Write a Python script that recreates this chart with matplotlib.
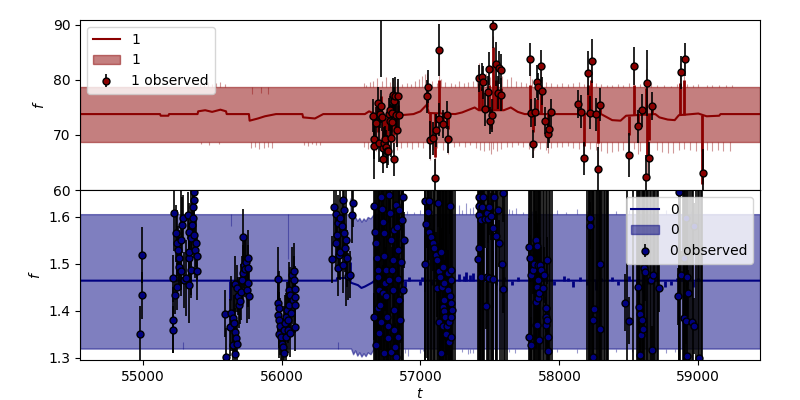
import matplotlib
matplotlib.use("Agg")
import matplotlib.pyplot as plt
import numpy as np

# ---------------- output "1" (top panel) ----------------
# slowly varying part of the predicted mean (t, f)
mean1 = [(54549, 73.8), (55125, 73.8), (55130, 73.5), (55185, 73.5), (55190, 73.8), (55395, 73.8),
         (55400, 74.3), (55450, 74.5), (55500, 74.2), (55560, 74.6), (55600, 74.3), (55605, 73.8),
         (55765, 73.8), (55770, 72.6), (55830, 73.0), (55880, 73.4), (55960, 73.8), (56150, 73.8),
         (56155, 73.2), (56240, 73.0), (56300, 73.8), (56600, 73.8), (56630, 74.3), (56655, 74.0),
         (56700, 73.5), (56760, 72.8), (56800, 73.8), (56860, 73.6), (56950, 73.8), (57000, 74.3),
         (57045, 75.5), (57060, 74.0), (57250, 73.8), (57300, 74.1), (57390, 75.0), (57420, 74.5),
         (57600, 74.5), (57650, 75.0), (57700, 74.2), (57750, 73.8), (58300, 73.8), (58380, 72.7),
         (58440, 72.6), (58480, 73.5), (58690, 73.8), (58720, 73.2), (58780, 72.8), (58830, 72.7),
         (58860, 73.6), (59000, 73.9), (59060, 73.4), (59150, 73.5), (59160, 73.8), (59444, 73.8)]
# short excursions of the mean (t, value reached)
mean1_spikes = [(56665, 70.0), (56680, 71.5), (56690, 75.5), (56697, 70.5), (56716, 77.0), (56728, 68.5),
                (56743, 69.5), (56757, 68.5), (56772, 75.0), (56786, 70.5), (56799, 76.5), (56806, 70.0),
                (56812, 75.5), (56818, 76.5), (56830, 71.5), (56836, 75.5), (57050, 77.5), (57069, 70.0),
                (57107, 66.0), (57136, 80.0), (57160, 72.5), (57196, 71.0), (57424, 79.5), (57445, 78.5),
                (57490, 79.0), (57505, 71.0), (57520, 86.0), (57544, 80.0), (57560, 78.0), (57580, 78.5),
                (57789, 79.0), (57808, 70.5), (57837, 76.5), (57868, 78.0), (57916, 71.5), (58132, 76.0),
                (58175, 68.0), (58204, 79.0), (58228, 80.0), (58276, 68.5), (58293, 75.0), (58504, 70.0),
                (58535, 79.0), (58564, 71.5), (58624, 78.5), (58628, 66.0), (58648, 69.0), (58665, 75.0),
                (58869, 79.5), (58900, 80.0), (59028, 61.0)]

# predicted band (t, lower, upper) and its ragged edges
band1 = [(54549, 68.8, 78.7), (59444, 68.8, 78.7)]
band1_hi = [(55410, 79.5), (55440, 79.2), (55470, 79.6), (55500, 79.3), (55530, 79.4), (55560, 79.6),
            (55590, 79.2), (55790, 77.4), (55850, 77.6), (55900, 77.5), (56590, 79.4), (56610, 79.1),
            (56640, 79.6), (56660, 79.9), (56690, 80.3), (56720, 79.8), (56750, 80.5), (56780, 79.6),
            (56800, 80.2), (56830, 79.7), (56870, 79.3), (56900, 79.5), (56930, 79.2), (56960, 79.8),
            (56990, 80.2), (57010, 80.8), (57030, 81.0), (57050, 81.3), (57080, 79.9), (57120, 79.4),
            (57136, 85.0), (57150, 80.1), (57180, 79.6), (57220, 79.5), (57250, 79.3), (57280, 79.8),
            (57310, 79.4), (57340, 79.7), (57380, 79.9), (57410, 80.7), (57424, 83.0), (57440, 80.9),
            (57470, 81.2), (57490, 82.0), (57500, 80.6), (57520, 88.0), (57530, 80.9), (57544, 83.0),
            (57560, 80.4), (57590, 80.8), (57620, 80.2), (57650, 80.5), (57690, 79.8), (57720, 79.6),
            (57760, 79.5), (57789, 83.0), (57800, 80.1), (57830, 79.7), (57860, 80.3), (57868, 82.0),
            (57900, 79.6), (57940, 79.4), (57980, 79.3), (58020, 79.5), (58060, 79.2), (58100, 79.4),
            (58140, 79.6), (58180, 79.3), (58204, 82.5), (58228, 83.0), (58260, 79.5), (58300, 79.2),
            (58340, 79.0), (58380, 79.1), (58420, 79.3), (58460, 79.0), (58500, 79.4), (58535, 82.5),
            (58580, 79.3), (58624, 82.0), (58660, 79.4), (58700, 79.1), (58750, 79.0), (58800, 78.9),
            (58850, 79.2), (58869, 83.0), (58900, 83.5), (58920, 79.3), (58960, 79.1), (59000, 79.2),
            (59060, 79.0), (59100, 79.1), (59150, 79.0), (59200, 79.1), (59240, 79.0)]
band1_lo = [(55420, 68.3), (55480, 68.2), (55550, 68.4), (55780, 67.6), (55810, 67.8), (55840, 67.5),
            (55870, 67.7), (55900, 67.8), (55930, 67.6), (56160, 68.2), (56190, 68.0), (56220, 68.3),
            (56250, 68.1), (56280, 68.2), (56590, 67.8), (56620, 67.5), (56650, 67.3), (56680, 67.0),
            (56710, 67.4), (56740, 66.8), (56770, 67.2), (56800, 67.0), (56830, 67.3), (56860, 67.6),
            (56900, 67.8), (56940, 67.5), (56980, 67.9), (57020, 67.7), (57060, 67.4), (57069, 65.5),
            (57090, 67.2), (57107, 61.5), (57120, 67.6), (57160, 67.3), (57196, 66.5), (57240, 67.9),
            (57280, 68.0), (57320, 67.8), (57360, 68.1), (57400, 67.6), (57430, 67.3), (57460, 67.0),
            (57490, 67.2), (57505, 66.5), (57520, 67.4), (57550, 67.1), (57580, 67.5), (57620, 67.8),
            (57660, 67.9), (57700, 68.1), (57740, 67.8), (57780, 67.5), (57808, 66.0), (57820, 67.2),
            (57860, 67.4), (57900, 67.3), (57916, 66.8), (57940, 67.6), (57980, 67.8), (58020, 67.9),
            (58060, 68.0), (58100, 67.7), (58140, 67.5), (58175, 64.5), (58220, 67.4), (58260, 67.2),
            (58276, 64.0), (58300, 67.0), (58340, 66.8), (58380, 66.9), (58420, 67.1), (58460, 67.3),
            (58504, 65.5), (58540, 67.4), (58564, 66.5), (58580, 67.1), (58628, 62.0), (58648, 65.0),
            (58700, 67.2), (58740, 66.9), (58780, 66.7), (58820, 66.8), (58860, 67.2), (58900, 67.4),
            (58940, 67.3), (58980, 67.1), (59020, 67.0), (59028, 56.0), (59060, 67.2), (59100, 67.0),
            (59140, 67.3), (59180, 67.1), (59230, 67.0)]

# observations (t, f, error)
obs1_a = [(56661, 73.5, 3.0), (56668, 69.2, 3.5), (56668, 68.0, 6.0), (56680, 72.1, 3.0),
          (56692, 75.8, 3.0), (56699, 68.6, 3.5), (56709, 73.8, 2.5), (56716, 75.2, 3.0),
          (56716, 100.0, 19.5), (56723, 73.3, 2.5), (56728, 67.7, 3.0), (56728, 65.6, 2.5),
          (56740, 68.5, 3.0), (56747, 69.2, 2.5), (56752, 67.9, 3.0), (56757, 67.0, 3.0),
          (56769, 67.0, 2.5), (56771, 73.8, 3.0), (56781, 74.5, 2.5), (56783, 72.6, 3.0),
          (56788, 69.5, 3.5), (56793, 74.0, 2.5), (56795, 72.4, 3.0), (56800, 77.3, 3.0),
          (56807, 65.6, 3.0), (56812, 76.2, 2.5), (56819, 77.1, 3.5), (56824, 73.6, 3.0),
          (56829, 70.9, 3.0), (56836, 77.1, 3.0), (56843, 73.6, 2.5)]
obs1_b = [(57045, 77.0, 3.0), (57052, 78.8, 3.0), (57069, 69.1, 3.5), (57088, 69.4, 3.0),
          (57107, 62.1, 3.5), (57112, 70.9, 3.0), (57131, 72.9, 3.0), (57136, 85.5, 4.7),
          (57160, 72.0, 2.5), (57189, 73.6, 2.5), (57196, 69.2, 2.5)]
obs1_c = [(57424, 80.3, 2.5), (57443, 80.5, 2.5), (57453, 79.6, 3.0), (57467, 74.7, 3.0),
          (57484, 77.8, 3.0), (57491, 82.0, 3.0), (57501, 72.6, 2.5), (57515, 73.6, 3.0),
          (57520, 89.8, 4.0), (57544, 82.9, 4.0), (57556, 77.7, 3.0), (57563, 82.2, 3.0),
          (57580, 81.8, 3.0), (57580, 77.3, 3.0)]
obs1_d = [(57789, 83.8, 3.0), (57796, 74.0, 2.5), (57808, 68.4, 2.5), (57825, 74.2, 2.5),
          (57837, 79.7, 3.0), (57844, 78.8, 2.5), (57868, 82.5, 3.0), (57875, 78.0, 2.5),
          (57899, 72.6, 2.5), (57916, 70.1, 2.5), (57923, 71.1, 2.5), (57940, 74.1, 2.5)]
obs1_e = [(58132, 75.6, 2.5), (58156, 74.2, 3.0), (58175, 65.8, 3.0), (58204, 81.2, 4.0),
          (58221, 74.0, 3.0), (58235, 83.5, 4.0), (58264, 73.8, 3.0), (58276, 63.8, 4.0),
          (58293, 75.5, 3.0), (58504, 66.4, 4.0), (58535, 82.5, 3.5), (58564, 71.6, 3.0),
          (58595, 74.5, 3.0), (58624, 62.4, 4.0), (58631, 79.4, 6.0), (58648, 65.8, 3.0),
          (58665, 75.3, 2.5), (58876, 81.4, 3.0), (58905, 83.8, 3.0), (59032, 63.0, 4.5)]

# ---------------- output "0" (bottom panel) ----------------
mean0 = [(54549, 1.4645), (56395, 1.4645), (56400, 1.470), (56485, 1.470), (56500, 1.460),
         (56520, 1.458), (56550, 1.455), (56575, 1.449), (56600, 1.452), (56625, 1.456),
         (56650, 1.460), (56700, 1.472), (56750, 1.455), (56800, 1.468), (56850, 1.458),
         (56880, 1.4645), (59444, 1.4645)]
mean0_spikes = [(55632, 1.424), (56045, 1.427), (56490, 1.505), (56890, 1.450), (56920, 1.472),
                (57000, 1.455), (57010, 1.473), (57080, 1.455), (57150, 1.475), (57200, 1.458),
                (57280, 1.478), (57310, 1.474), (57330, 1.482), (57360, 1.476), (57380, 1.480),
                (57470, 1.476), (57540, 1.456), (57600, 1.472), (57660, 1.455), (57700, 1.472),
                (57840, 1.440), (57870, 1.472), (57900, 1.476), (57960, 1.455), (58030, 1.474),
                (58060, 1.470), (58100, 1.452), (58150, 1.472), (58200, 1.455), (58250, 1.468),
                (58260, 1.445), (58300, 1.470), (58380, 1.472), (58420, 1.455), (58500, 1.475),
                (58560, 1.452), (58600, 1.440), (58640, 1.458), (58700, 1.470), (58760, 1.450),
                (58800, 1.455), (58850, 1.470), (58880, 1.476), (58920, 1.455), (58960, 1.452),
                (59000, 1.470)]

band0 = [(54549, 1.320, 1.606), (56500, 1.320, 1.606), (56515, 1.308, 1.595), (56530, 1.316, 1.600),
         (56545, 1.305, 1.592), (56560, 1.312, 1.598), (56575, 1.303, 1.590), (56590, 1.310, 1.597),
         (56605, 1.304, 1.592), (56620, 1.312, 1.600), (56640, 1.308, 1.597), (56660, 1.318, 1.605),
         (56680, 1.320, 1.606), (59444, 1.320, 1.606)]
band0_hi = [(55636, 1.580), (56045, 1.510), (56490, 1.640), (56900, 1.612), (56950, 1.610),
            (57000, 1.615), (57060, 1.610), (57280, 1.625), (57300, 1.615), (57330, 1.630),
            (57360, 1.620), (57380, 1.622), (57420, 1.612), (57500, 1.612), (57560, 1.614),
            (57640, 1.618), (57660, 1.615), (57690, 1.620), (57740, 1.610), (57800, 1.612),
            (57900, 1.614), (57980, 1.614), (58050, 1.610), (58130, 1.618), (58200, 1.612),
            (58300, 1.610), (58410, 1.612), (58500, 1.614), (58560, 1.610), (58660, 1.612),
            (58770, 1.614), (58850, 1.610), (58950, 1.612)]
band0_lo = [(55291, 1.333), (56409, 1.333), (56890, 1.310), (56910, 1.305), (57000, 1.310),
            (57020, 1.315), (57300, 1.312), (57340, 1.308), (57360, 1.310), (57380, 1.310),
            (57640, 1.312), (57680, 1.310), (57980, 1.312), (58130, 1.310), (58410, 1.312),
            (58520, 1.312), (58770, 1.310), (58830, 1.312)]

obs0_a = [(54981, 1.351, 0.06), (54993, 1.433, 0.05), (54993, 1.519, 0.06)]
obs0_b = [(55218, 1.470, 0.05), (55221, 1.381, 0.07), (55221, 1.360, 0.05), (55228, 1.608, 0.08),
          (55235, 1.434, 0.04), (55240, 1.565, 0.06), (55245, 1.452, 0.05), (55247, 1.544, 0.07),
          (55252, 1.530, 0.05), (55259, 1.512, 0.06), (55264, 1.494, 0.05), (55276, 1.484, 0.04),
          (55276, 1.551, 0.12), (55283, 1.583, 0.06), (55288, 1.597, 0.05), (55300, 1.466, 0.06),
          (55312, 1.470, 0.08), (55324, 1.604, 0.05), (55331, 1.569, 0.06), (55331, 1.512, 0.05),
          (55331, 1.455, 0.08), (55336, 1.526, 0.05), (55348, 1.487, 0.06), (55348, 1.555, 0.12),
          (55355, 1.583, 0.05), (55360, 1.597, 0.05), (55365, 1.622, 0.04), (55367, 1.636, 0.05),
          (55372, 1.654, 0.04), (55372, 1.562, 0.05), (55379, 1.530, 0.06), (55384, 1.544, 0.05),
          (55389, 1.516, 0.05), (55391, 1.484, 0.06)]
obs0_c = [(55595, 1.394, 0.05), (55600, 1.303, 0.06), (55631, 1.365, 0.06), (55636, 1.395, 0.08),
          (55648, 1.384, 0.07), (55653, 1.328, 0.05), (55660, 1.374, 0.06), (55667, 1.356, 0.05),
          (55667, 1.309, 0.05), (55667, 1.457, 0.06), (55672, 1.342, 0.04), (55677, 1.330, 0.05),
          (55677, 1.448, 0.05), (55684, 1.432, 0.04), (55691, 1.413, 0.05), (55701, 1.422, 0.05),
          (55708, 1.441, 0.06), (55715, 1.466, 0.05), (55720, 1.480, 0.06), (55725, 1.557, 0.06),
          (55732, 1.498, 0.05), (55739, 1.489, 0.06), (55744, 1.505, 0.05), (55749, 1.445, 0.07),
          (55756, 1.512, 0.06), (55756, 1.491, 0.05), (55756, 1.459, 0.05), (55763, 1.432, 0.05)]
obs0_d = [(55972, 1.467, 0.07), (55972, 1.416, 0.06), (55977, 1.392, 0.05), (55984, 1.406, 0.08),
          (55984, 1.381, 0.06), (55984, 1.351, 0.05), (55991, 1.367, 0.06), (55996, 1.345, 0.05),
          (56001, 1.330, 0.05), (56008, 1.324, 0.06), (56015, 1.310, 0.05), (56020, 1.360, 0.05),
          (56025, 1.374, 0.06), (56032, 1.388, 0.05), (56032, 1.345, 0.05), (56039, 1.402, 0.06),
          (56044, 1.360, 0.05), (56049, 1.381, 0.05), (56056, 1.445, 0.06), (56056, 1.413, 0.05),
          (56063, 1.353, 0.05), (56063, 1.434, 0.06), (56068, 1.395, 0.05), (56073, 1.477, 0.06),
          (56080, 1.423, 0.05), (56087, 1.466, 0.05), (56092, 1.484, 0.06), (56097, 1.446, 0.05),
          (56097, 1.429, 0.05), (56097, 1.413, 0.06), (56097, 1.365, 0.05)]
obs0_e = [(56361, 1.510, 0.05), (56380, 1.622, 0.08), (56392, 1.606, 0.06), (56392, 1.544, 0.06),
          (56399, 1.562, 0.05), (56404, 1.587, 0.06), (56409, 1.491, 0.06), (56416, 1.519, 0.05),
          (56423, 1.597, 0.08), (56423, 1.526, 0.06), (56433, 1.580, 0.06), (56440, 1.636, 0.07),
          (56440, 1.498, 0.06), (56447, 1.565, 0.05), (56452, 1.615, 0.06), (56457, 1.533, 0.05),
          (56464, 1.551, 0.14), (56471, 1.512, 0.06), (56476, 1.474, 0.05), (56495, 1.477, 0.05),
          (56505, 1.604, 0.06), (56512, 1.629, 0.05)]
obs0_f = [(56668, 1.623, 0.4), (56668, 1.388, 0.05), (56673, 1.569, 0.06), (56680, 1.544, 0.4),
          (56680, 1.328, 0.06), (56687, 1.512, 0.05), (56692, 1.487, 0.4), (56692, 1.406, 0.06),
          (56697, 1.472, 0.05), (56704, 1.445, 0.4), (56704, 1.353, 0.05), (56711, 1.413, 0.06),
          (56716, 1.643, 0.4), (56716, 1.377, 0.06), (56721, 1.618, 0.05), (56728, 1.590, 0.4),
          (56728, 1.438, 0.06), (56735, 1.565, 0.05), (56740, 1.516, 0.4), (56740, 1.310, 0.05),
          (56745, 1.459, 0.06), (56752, 1.431, 0.4), (56752, 1.487, 0.05), (56759, 1.388, 0.06),
          (56764, 1.367, 0.4), (56769, 1.342, 0.05), (56776, 1.647, 0.06), (56776, 1.466, 0.4),
          (56783, 1.608, 0.05), (56788, 1.551, 0.4), (56788, 1.313, 0.06), (56793, 1.487, 0.05),
          (56800, 1.445, 0.4), (56800, 1.508, 0.06), (56807, 1.402, 0.05), (56812, 1.360, 0.4),
          (56812, 1.572, 0.06), (56817, 1.324, 0.05), (56824, 1.626, 0.4), (56824, 1.303, 0.06),
          (56831, 1.579, 0.05), (56836, 1.530, 0.4), (56836, 1.345, 0.06), (56841, 1.467, 0.05),
          (56848, 1.423, 0.4), (56848, 1.615, 0.06), (56855, 1.381, 0.05), (56860, 1.505, 0.4),
          (56865, 1.594, 0.06), (56872, 1.643, 0.05), (56872, 1.445, 0.4), (56879, 1.551, 0.06)]
obs0_g = [(57035, 1.633, 0.4), (57035, 1.500, 0.06), (57040, 1.585, 0.05), (57052, 1.611, 0.4),
          (57059, 1.569, 0.06), (57064, 1.633, 0.05), (57076, 1.558, 0.4), (57088, 1.544, 0.06),
          (57100, 1.533, 0.4), (57112, 1.519, 0.05), (57117, 1.509, 0.4), (57117, 1.448, 0.06),
          (57124, 1.629, 0.05), (57131, 1.377, 0.4), (57136, 1.484, 0.06), (57141, 1.473, 0.4),
          (57148, 1.526, 0.05), (57148, 1.310, 0.06), (57155, 1.452, 0.4), (57160, 1.409, 0.05),
          (57160, 1.367, 0.4), (57165, 1.494, 0.06), (57172, 1.459, 0.05), (57172, 1.399, 0.4),
          (57172, 1.423, 0.06), (57179, 1.388, 0.05), (57184, 1.352, 0.4), (57189, 1.367, 0.06),
          (57196, 1.480, 0.05), (57196, 1.445, 0.4), (57203, 1.377, 0.06), (57208, 1.335, 0.05),
          (57213, 1.431, 0.4), (57213, 1.623, 0.06), (57220, 1.487, 0.05), (57220, 1.466, 0.06),
          (57220, 1.416, 0.4), (57220, 1.388, 0.05), (57220, 1.345, 0.06), (57227, 1.402, 0.4)]
obs0_h = [(57417, 1.510, 0.4), (57419, 1.643, 0.05), (57419, 1.604, 0.06), (57424, 1.623, 0.4),
          (57424, 1.533, 0.05), (57436, 1.594, 0.06), (57436, 1.473, 0.4), (57443, 1.622, 0.05),
          (57453, 1.643, 0.4), (57467, 1.595, 0.06), (57472, 1.411, 0.05), (57477, 1.608, 0.4),
          (57477, 1.473, 0.06), (57484, 1.595, 0.05), (57491, 1.470, 0.4), (57496, 1.622, 0.06),
          (57508, 1.602, 0.05), (57520, 1.576, 0.4), (57520, 1.467, 0.06), (57532, 1.643, 0.05),
          (57544, 1.560, 0.4), (57556, 1.615, 0.06), (57568, 1.544, 0.05), (57587, 1.500, 0.4),
          (57592, 1.650, 0.06), (57592, 1.446, 0.05)]
obs0_i = [(57779, 1.345, 0.4), (57784, 1.537, 0.06), (57789, 1.512, 0.05), (57796, 1.477, 0.4),
          (57796, 1.328, 0.06), (57808, 1.487, 0.05), (57820, 1.501, 0.4), (57832, 1.552, 0.06),
          (57832, 1.370, 0.05), (57832, 1.420, 0.4), (57837, 1.452, 0.06), (57839, 1.538, 0.05),
          (57839, 1.370, 0.4), (57844, 1.466, 0.06), (57844, 1.438, 0.05), (57849, 1.498, 0.4),
          (57849, 1.427, 0.06), (57856, 1.438, 0.05), (57856, 1.338, 0.4), (57863, 1.498, 0.06),
          (57868, 1.487, 0.05), (57880, 1.448, 0.4), (57892, 1.477, 0.06), (57904, 1.406, 0.05),
          (57904, 1.388, 0.4), (57904, 1.370, 0.06), (57911, 1.508, 0.05), (57911, 1.381, 0.4),
          (57916, 1.345, 0.06), (57921, 1.314, 0.05)]
obs0_j = [(58223, 1.597, 0.4), (58223, 1.581, 0.05), (58240, 1.381, 0.4), (58240, 1.303, 0.06),
          (58252, 1.404, 0.4), (58295, 1.500, 0.4), (58295, 1.361, 0.06),
          (58473, 1.418, 0.06), (58504, 1.379, 0.05), (58564, 1.452, 0.4), (58576, 1.409, 0.06),
          (58583, 1.394, 0.4), (58583, 1.306, 0.05), (58588, 1.348, 0.06), (58593, 1.381, 0.4),
          (58600, 1.361, 0.05), (58607, 1.491, 0.4), (58617, 1.482, 0.06), (58660, 1.466, 0.4),
          (58665, 1.317, 0.05), (58672, 1.477, 0.4), (58720, 1.448, 0.05)]
obs0_k = [(58857, 1.431, 0.06), (58864, 1.654, 0.4), (58876, 1.477, 0.05), (58900, 1.384, 0.4),
          (58900, 1.512, 0.06), (58912, 1.379, 0.05), (58912, 1.597, 0.4), (58919, 1.472, 0.06),
          (58919, 1.304, 0.4), (58929, 1.438, 0.05), (58953, 1.377, 0.4), (58972, 1.368, 0.06),
          (58972, 1.580, 0.05), (59008, 1.299, 0.4)]
# points lying outside the visible range (only their error bars show)
obs0_off = [(56670, 1.22, 0.5), (56690, 1.75, 0.5), (56700, 1.20, 0.5), (56710, 1.76, 0.5),
            (56725, 1.21, 0.5), (56735, 1.20, 0.5), (56750, 1.77, 0.5), (56760, 1.22, 0.5),
            (56780, 1.78, 0.5), (56800, 1.21, 0.5), (56815, 1.75, 0.5), (56830, 1.22, 0.5),
            (56845, 1.76, 0.5), (56865, 1.20, 0.5),
            (57033, 1.21, 0.5), (57045, 1.80, 0.5), (57056, 1.22, 0.5), (57070, 1.18, 0.5),
            (57082, 1.75, 0.5), (57095, 1.76, 0.5), (57105, 1.21, 0.5), (57125, 1.20, 0.5),
            (57138, 1.76, 0.5), (57150, 1.25, 0.5), (57162, 1.77, 0.5), (57178, 1.22, 0.5),
            (57185, 1.72, 0.5), (57192, 1.20, 0.5), (57205, 1.76, 0.5), (57217, 1.21, 0.5),
            (57235, 1.75, 0.5), (57245, 1.70, 0.5),
            (57425, 1.76, 0.5), (57430, 1.21, 0.5), (57440, 1.22, 0.5), (57450, 1.77, 0.5),
            (57460, 1.76, 0.5), (57483, 1.20, 0.5), (57505, 1.75, 0.5), (57515, 1.22, 0.5),
            (57525, 1.21, 0.5), (57540, 1.76, 0.5), (57550, 1.74, 0.5), (57575, 1.22, 0.5),
            (57600, 1.76, 0.5), (57610, 1.20, 0.5), (57620, 1.75, 0.5),
            (57785, 1.21, 0.5), (57800, 1.78, 0.5), (57815, 1.22, 0.5), (57825, 1.76, 0.5),
            (57850, 1.20, 0.5), (57860, 1.75, 0.5), (57870, 1.20, 0.5), (57890, 1.77, 0.5),
            (57925, 1.21, 0.5), (57935, 1.72, 0.5), (57945, 1.22, 0.5),
            (58200, 1.76, 0.5), (58210, 1.75, 0.5), (58215, 1.21, 0.5), (58230, 1.20, 0.5),
            (58238, 1.77, 0.5), (58245, 1.22, 0.5), (58260, 1.78, 0.5), (58268, 1.21, 0.5),
            (58275, 1.22, 0.5), (58285, 1.76, 0.5), (58290, 1.20, 0.5), (58302, 1.75, 0.5),
            (58310, 1.76, 0.5), (58318, 1.21, 0.5), (58330, 1.18, 0.5), (58340, 1.77, 0.5),
            (58345, 1.22, 0.5), (58350, 1.74, 0.5),
            (58490, 1.21, 0.5), (58530, 1.76, 0.5), (58560, 1.22, 0.5), (58575, 1.75, 0.5),
            (58600, 1.22, 0.5), (58610, 1.76, 0.5), (58620, 1.21, 0.5), (58630, 1.77, 0.5),
            (58640, 1.22, 0.5), (58650, 1.20, 0.5), (58680, 1.76, 0.5), (58690, 1.75, 0.5),
            (58700, 1.20, 0.5), (58710, 1.77, 0.5),
            (58860, 1.21, 0.5), (58870, 1.22, 0.5), (58890, 1.76, 0.5), (58895, 1.20, 0.5),
            (58905, 1.75, 0.5), (58925, 1.22, 0.5), (58940, 1.21, 0.5), (58960, 1.76, 0.5),
            (58985, 1.75, 0.5), (59000, 1.21, 0.5), (59020, 1.76, 0.5), (59030, 1.22, 0.5)]

obs1 = obs1_a + obs1_b + obs1_c + obs1_d + obs1_e
obs0 = obs0_a + obs0_b + obs0_c + obs0_d + obs0_e + obs0_f + obs0_g + obs0_h + obs0_i + obs0_j + obs0_k + obs0_off


def draw_output(ax, mean, spikes, band, band_hi, band_lo, obs, color, name):
    m = np.array(mean)
    s = np.array(spikes)
    b = np.array(band)
    bh = np.array(band_hi)
    bl = np.array(band_lo)
    o = np.array(obs)
    ax.plot(m[:, 0], m[:, 1], color=color, lw=1.5, label=name)
    ax.fill_between(b[:, 0], b[:, 1], b[:, 2], color=color, alpha=0.5, label=name)
    # ragged band edges
    ax.vlines(bh[:, 0], np.interp(bh[:, 0], b[:, 0], b[:, 2]), bh[:, 1], color=color, alpha=0.4, lw=0.8)
    ax.vlines(bl[:, 0], np.interp(bl[:, 0], b[:, 0], b[:, 1]), bl[:, 1], color=color, alpha=0.4, lw=0.8)
    # short excursions of the mean
    ax.vlines(s[:, 0], np.interp(s[:, 0], m[:, 0], m[:, 1]), s[:, 1], color=color, lw=2)
    ax.errorbar(o[:, 0], o[:, 1], yerr=o[:, 2], fmt='o', ms=5, mfc=color, mec='k',
                mew=1, ecolor='k', elinewidth=1.2, label=name + ' observed')
    ax.set_ylabel('$f$')


fig, (ax1, ax0) = plt.subplots(2, 1, sharex=True, figsize=(8, 4), dpi=100)
fig.subplots_adjust(left=0.1, right=0.95, top=0.95, bottom=0.1, hspace=0)

draw_output(ax1, mean1, mean1_spikes, band1, band1_hi, band1_lo, obs1, 'darkred', '1')
draw_output(ax0, mean0, mean0_spikes, band0, band0_hi, band0_lo, obs0, 'navy', '0')

ax1.set_ylim(60, 90.9)
ax0.set_ylim(1.2957, 1.6574)
ax0.set_xlim(54549, 59444)
ax0.set_xlabel('$t$', labelpad=2)

ax1.legend(loc='upper left')
ax0.legend(loc='upper right')

fig.savefig('out.png', dpi=100)
